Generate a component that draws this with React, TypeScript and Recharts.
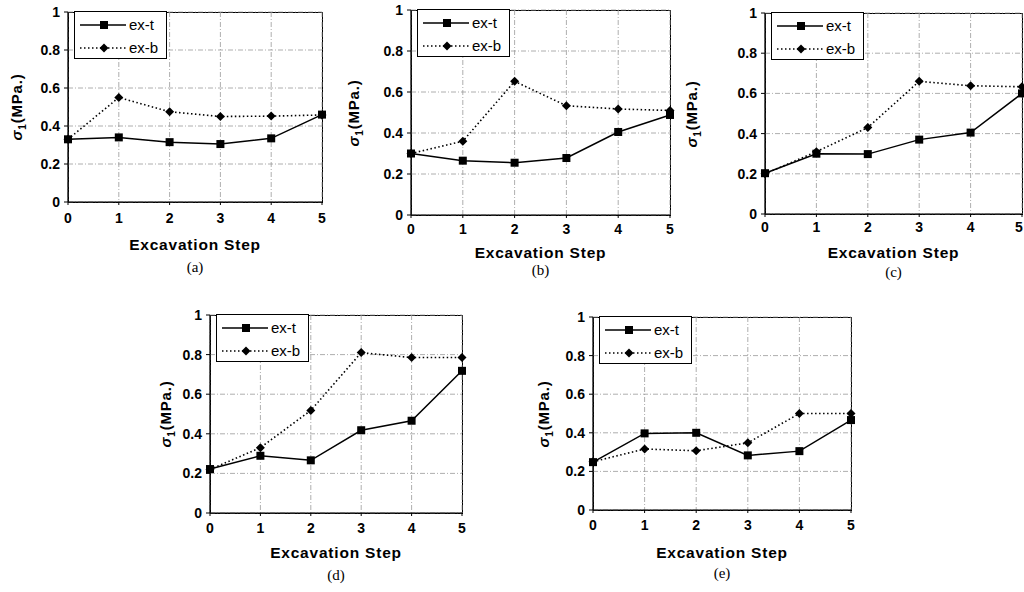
import React from 'react'
import { LineChart, Line, XAxis, YAxis, CartesianGrid } from 'recharts'

// excavation steps on the x axis, stress ticks on the y axis
const steps = [0, 1, 2, 3, 4, 5]
const yTicks = [0, 0.2, 0.4, 0.6, 0.8, 1]

const exTopA = [0.33, 0.34, 0.315, 0.305, 0.335, 0.46]
const exBotA = [0.33, 0.55, 0.475, 0.45, 0.452, 0.458]
const exTopB = [0.3, 0.265, 0.255, 0.278, 0.405, 0.488]
const exBotB = [0.3, 0.36, 0.652, 0.533, 0.517, 0.51]
const exTopC = [0.203, 0.3, 0.298, 0.37, 0.405, 0.6]
const exBotC = [0.2, 0.31, 0.43, 0.66, 0.638, 0.633]
const exTopD = [0.222, 0.289, 0.266, 0.418, 0.466, 0.718]
const exBotD = [0.22, 0.33, 0.518, 0.81, 0.785, 0.785]
const exTopE = [0.248, 0.397, 0.4, 0.283, 0.305, 0.466]
const exBotE = [0.25, 0.316, 0.307, 0.348, 0.5, 0.5]

const captions = ['(a)', '(b)', '(c)', '(d)', '(e)']

const SANS = '"Liberation Sans", Arial, sans-serif'
const SERIF = '"Liberation Serif", "Times New Roman", serif'

type PanelProps = {
  top: number[]
  bot: number[]
  caption: string
  x: number
  y: number
  w: number
  h: number
  yLabelX: number
  xLabelY: number
  captionY: number
  tickGap: number
}

const panels: PanelProps[] = [
  { top: exTopA, bot: exBotA, caption: captions[0], x: 68, y: 12, w: 254, h: 190, yLabelX: 18, xLabelY: 245, captionY: 267, tickGap: 8 },
  { top: exTopB, bot: exBotB, caption: captions[1], x: 411, y: 10, w: 259, h: 205, yLabelX: 355, xLabelY: 253, captionY: 270, tickGap: 6 },
  { top: exTopC, bot: exBotC, caption: captions[2], x: 765, y: 13, w: 257, h: 201, yLabelX: 693, xLabelY: 253, captionY: 272, tickGap: 5 },
  { top: exTopD, bot: exBotD, caption: captions[3], x: 210, y: 315, w: 252, h: 198, yLabelX: 167, xLabelY: 553, captionY: 575, tickGap: 7 },
  { top: exTopE, bot: exBotE, caption: captions[4], x: 593, y: 317, w: 258, h: 193, yLabelX: 545, xLabelY: 553, captionY: 573, tickGap: 7 },
]

const squareDot = (props: any) => {
  const { cx, cy, index } = props
  return <rect key={`sq-${index}`} x={cx - 4} y={cy - 4} width={8} height={8} fill="#000" />
}

const diamondDot = (props: any) => {
  const { cx, cy, index } = props
  return (
    <polygon
      key={`di-${index}`}
      points={`${cx},${cy - 4.5} ${cx + 4.5},${cy} ${cx},${cy + 4.5} ${cx - 4.5},${cy}`}
      fill="#000"
    />
  )
}

const LegendBox = ({ left, top }: { left: number; top: number }) => (
  <div
    style={{
      position: 'absolute',
      left,
      top,
      width: 93,
      height: 48,
      border: '1.2px solid #000',
      background: '#fff',
      boxSizing: 'border-box',
      fontFamily: SANS,
      fontSize: 15,
      color: '#000',
    }}
  >
    <div style={{ display: 'flex', alignItems: 'center', height: 23, marginTop: 1 }}>
      <svg width={54} height={20}>
        <line x1={5} y1={10} x2={51} y2={10} stroke="#000" strokeWidth={1.4} />
        <rect x={25} y={6} width={8} height={8} fill="#000" />
      </svg>
      <span>ex-t</span>
    </div>
    <div style={{ display: 'flex', alignItems: 'center', height: 23 }}>
      <svg width={54} height={20}>
        <line x1={5} y1={10} x2={51} y2={10} stroke="#000" strokeWidth={1.6} strokeDasharray="1.5 2.5" />
        <polygon points="29,5.5 33.5,10 29,14.5 24.5,10" fill="#000" />
      </svg>
      <span>ex-b</span>
    </div>
  </div>
)

function Panel(p: PanelProps) {
  const data = steps.map((s, i) => ({ step: s, t: p.top[i], b: p.bot[i] }))
  const ML = 50
  const MT = 10
  const MR = 14
  const MB = 30
  const chartW = p.w + ML + MR
  // keep the last x label inside the page for the right-most panel
  const maxTextX = 1024 - (p.x - ML) - 5
  const tickFont = { fontFamily: SANS, fontSize: 14, fontWeight: 700 }

  const xTick = (props: any) => {
    const { x, y, payload } = props
    const tx = Math.min(x, maxTextX, chartW)
    return (
      <text x={tx} y={y} dy="0.71em" textAnchor="middle" fill="#000" {...tickFont}>
        {payload.value}
      </text>
    )
  }

  return (
    <>
      <div
        style={{
          position: 'absolute',
          left: p.x,
          top: p.y,
          width: p.w + 1,
          height: p.h + 1,
          border: '1.2px solid #000',
          boxSizing: 'border-box',
        }}
      />
      <div style={{ position: 'absolute', left: p.x - ML, top: p.y - MT }}>
        <LineChart
          width={chartW}
          height={p.h + MT + MB}
          data={data}
          margin={{ top: MT, right: MR, bottom: 0, left: 0 }}
        >
          <CartesianGrid stroke="#999" strokeDasharray="5 2 1 2" strokeWidth={0.8} />
          <XAxis
            dataKey="step"
            type="number"
            domain={[0, 5]}
            ticks={steps}
            height={MB}
            axisLine={{ stroke: '#000', strokeWidth: 1.2 }}
            tickLine={{ stroke: '#000' }}
            tickSize={3}
            tickMargin={p.tickGap}
            tick={xTick}
            interval={0}
          />
          <YAxis
            type="number"
            domain={[0, 1]}
            ticks={yTicks}
            width={ML}
            axisLine={{ stroke: '#000', strokeWidth: 1.2 }}
            tickLine={{ stroke: '#000' }}
            tickSize={4}
            tickMargin={4}
            tick={{ fill: '#000', ...tickFont }}
            interval={0}
          />
          <Line
            dataKey="b"
            name="ex-b"
            stroke="#000"
            strokeWidth={1.6}
            strokeDasharray="1.5 2.5"
            dot={diamondDot}
            activeDot={false}
            isAnimationActive={false}
          />
          <Line
            dataKey="t"
            name="ex-t"
            stroke="#000"
            strokeWidth={1.5}
            dot={squareDot}
            activeDot={false}
            isAnimationActive={false}
          />
        </LineChart>
      </div>
      <LegendBox left={p.x + 6} top={p.y - 1} />
      <div
        style={{
          position: 'absolute',
          left: p.yLabelX,
          top: p.y + p.h / 2,
          transform: 'translate(-50%, -50%) rotate(-90deg)',
          whiteSpace: 'nowrap',
          fontFamily: SANS,
          fontWeight: 700,
          fontSize: 15,
          letterSpacing: 0.8,
        }}
      >
        <i>σ</i>
        <sub style={{ fontSize: 10 }}>1</sub>(MPa.)
      </div>
      <div
        style={{
          position: 'absolute',
          left: p.x + p.w / 2,
          top: p.xLabelY,
          transform: 'translate(-50%, -50%)',
          whiteSpace: 'nowrap',
          fontFamily: SANS,
          fontWeight: 700,
          fontSize: 15.5,
          letterSpacing: 0.8,
        }}
      >
        Excavation Step
      </div>
      <div
        style={{
          position: 'absolute',
          left: p.x + p.w / 2,
          top: p.captionY,
          transform: 'translate(-50%, -50%)',
          fontFamily: SERIF,
          fontSize: 15,
        }}
      >
        {p.caption}
      </div>
    </>
  )
}

export default function App() {
  return (
    <div
      style={{
        position: 'absolute',
        left: 0,
        top: 0,
        width: 1024,
        height: 592,
        overflow: 'hidden',
        background: '#fff',
        color: '#000',
      }}
    >
      {panels.map((p) => (
        <Panel key={p.caption} {...p} />
      ))}
    </div>
  )
}
